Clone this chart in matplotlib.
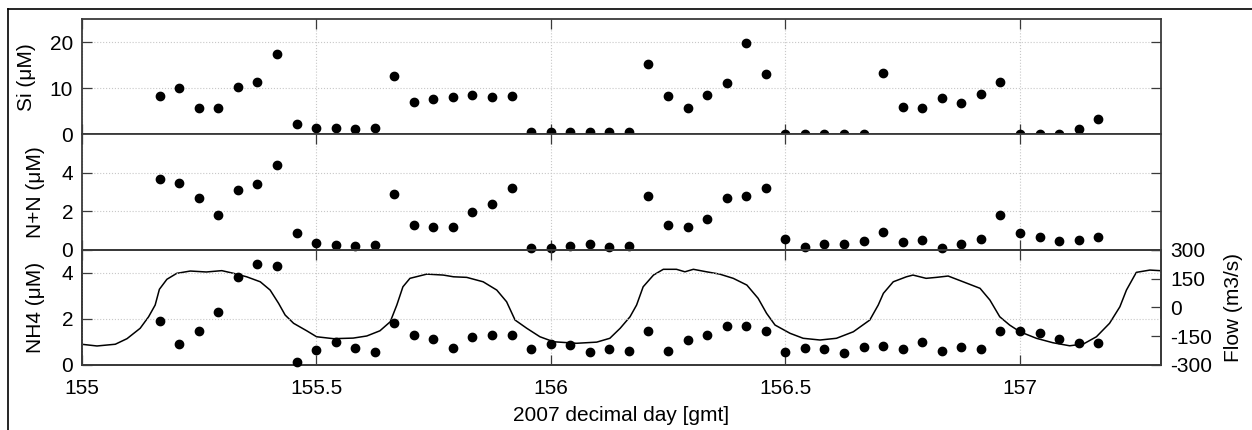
import matplotlib
matplotlib.use('Agg')
import matplotlib.pyplot as plt
from matplotlib.lines import Line2D

plt.rcParams['font.family'] = ['Liberation Sans', 'DejaVu Sans']
plt.rcParams['axes.unicode_minus'] = False

# hourly bottle samples (decimal day)
day = [155.1667, 155.2083, 155.2500, 155.2917, 155.3333, 155.3750, 155.4167,
       155.4583, 155.5000, 155.5417, 155.5833, 155.6250, 155.6667, 155.7083,
       155.7500, 155.7917, 155.8333, 155.8750, 155.9167, 155.9583, 156.0000,
       156.0417, 156.0833, 156.1250, 156.1667, 156.2083, 156.2500, 156.2917,
       156.3333, 156.3750, 156.4167, 156.4583, 156.5000, 156.5417, 156.5833,
       156.6250, 156.6667, 156.7083, 156.7500, 156.7917, 156.8333, 156.8750,
       156.9167, 156.9583, 157.0000, 157.0417, 157.0833, 157.1250, 157.1667]

si = [8.2, 10.0, 5.8, 5.8, 10.2, 11.4, 17.5, 2.3, 1.4, 1.3, 1.15, 1.4, 12.7,
      6.9, 7.6, 8.0, 8.5, 8.0, 8.3, 0.4, 0.4, 0.4, 0.4, 0.4, 0.4, 15.3, 8.3,
      5.8, 8.5, 11.2, 19.7, 13.1, 0.0, 0.1, 0.0, 0.0, 0.0, 13.3, 6.0, 5.8, 7.8,
      6.7, 8.8, 11.4, 0.1, 0.0, 0.1, 1.1, 3.3]

nn = [3.69, 3.48, 2.68, 1.78, 3.1, 3.41, 4.4, 0.85, 0.37, 0.25, 0.21, 0.25,
      2.89, 1.29, 1.2, 1.2, 1.98, 2.4, 3.2, 0.07, 0.07, 0.18, 0.31, 0.12, 0.21,
      2.8, 1.29, 1.2, 1.58, 2.68, 2.78, 3.2, 0.54, 0.12, 0.31, 0.28, 0.45, 0.92,
      0.38, 0.49, 0.1, 0.31, 0.56, 1.78, 0.87, 0.68, 0.45, 0.49, 0.66]

nh4 = [1.9, 0.93, 1.49, 2.3, 3.8, 4.39, 4.3, 0.13, 0.65, 0.99, 0.74, 0.58,
       1.8, 1.29, 1.12, 0.72, 1.2, 1.29, 1.29, 0.68, 0.9, 0.87, 0.58, 0.68,
       0.62, 1.49, 0.62, 1.1, 1.29, 1.7, 1.7, 1.49, 0.55, 0.72, 0.71, 0.51,
       0.77, 0.81, 0.68, 0.99, 0.62, 0.77, 0.7, 1.49, 1.49, 1.4, 1.12, 0.96, 0.96]

# river flow record
flow_day = [155.0, 155.033, 155.072, 155.097, 155.125, 155.143, 155.157, 155.166,
            155.182, 155.203, 155.232, 155.266, 155.299, 155.324, 155.352, 155.381,
            155.402, 155.42, 155.434, 155.452, 155.48, 155.501, 155.537, 155.579,
            155.608, 155.636, 155.658, 155.672, 155.685, 155.70, 155.736, 155.771,
            155.793, 155.821, 155.856, 155.885, 155.906, 155.924, 155.949, 155.977,
            156.006, 156.055, 156.098, 156.126, 156.148, 156.169, 156.183, 156.197,
            156.219, 156.24, 156.268, 156.286, 156.304, 156.332, 156.36, 156.389,
            156.418, 156.442, 156.46, 156.478, 156.51, 156.538, 156.574, 156.609,
            156.645, 156.68, 156.698, 156.709, 156.73, 156.758, 156.772, 156.8,
            156.822, 156.847, 156.879, 156.915, 156.936, 156.957, 156.978, 157.0,
            157.035, 157.07, 157.106, 157.135, 157.163, 157.191, 157.213, 157.227,
            157.248, 157.277, 157.298]
flow = [-192, -201, -192, -163, -109, -49, 12, 94,
        146, 177, 189, 184, 191, 177, 159, 133,
        90, 21, -40, -83, -122, -153, -163, -160,
        -149, -122, -75, 12, 107, 151, 173, 168,
        159, 156, 133, 90, 29, -66, -109, -153,
        -179, -187, -181, -161, -109, -49, 12, 107,
        168, 198, 198, 185, 198, 185, 173, 151,
        116, 47, -31, -92, -135, -161, -170, -161,
        -127, -66, 12, 73, 133, 159, 168, 151,
        156, 163, 133, 99, 38, -49, -92, -127,
        -161, -184, -200, -191, -153, -83, 3, 90,
        182, 194, 191]

xticks = [155, 155.5, 156, 156.5, 157]
xticklabels = ['155', '155.5', '156', '156.5', '157']

W, H = 1252, 430
fig = plt.figure(figsize=(W / 100, H / 100), dpi=100)

left = 81.5 / W
width = (1160.7 - 81.5) / W
edges = [19, 134.3, 249.7, 365]

spine_col = '#3a3a3a'
fs = 15


def make_ax(i):
    top, bot = edges[i], edges[i + 1]
    ax = fig.add_axes([left, 1 - bot / H, width, (bot - top) / H])
    for s in ax.spines.values():
        s.set_color(spine_col)
        s.set_linewidth(1.3)
    ax.set_xlim(155, 157.3)
    ax.set_xticks(xticks)
    ax.tick_params(direction='in', length=7, width=0.9, color=spine_col,
                   top=True, right=True, labelsize=fs, pad=6)
    ax.tick_params(axis='x', pad=10)
    ax.grid(True, color='#c8c8c8', linestyle=':', linewidth=0.8)
    return ax


ax1 = make_ax(0)
ax1.plot(day, si, 'o', color='black', ms=6, clip_on=False, zorder=5)
ax1.set_ylim(0, 25)
ax1.set_yticks([0, 10, 20])
ax1.set_xticklabels([])
ax1.set_ylabel('Si (μM)', fontsize=fs, labelpad=10)

ax2 = make_ax(1)
ax2.plot(day, nn, 'o', color='black', ms=6, clip_on=False, zorder=5)
ax2.set_ylim(0, 6)
ax2.set_yticks([0, 2, 4])
ax2.set_xticklabels([])
ax2.set_ylabel('N+N (μM)', fontsize=fs, labelpad=12)

ax3 = make_ax(2)
ax3.set_ylim(0, 5)
ax3.set_yticks([0, 2, 4])
ax3.set_xticklabels(xticklabels)
ax3.set_ylabel('NH4 (μM)', fontsize=fs, labelpad=12)
ax3.set_xlabel('2007 decimal day [gmt]', fontsize=fs, labelpad=6)

ax3b = ax3.twinx()
ax3b.plot(flow_day, flow, color='black', lw=1.1)
ax3b.set_ylim(-300, 300)
ax3b.set_yticks([-300, -150, 0, 150, 300])
ax3b.tick_params(direction='in', length=7, width=0.9, color=spine_col,
                 labelsize=fs, pad=7)
for s in ax3b.spines.values():
    s.set_color(spine_col)
    s.set_linewidth(1.3)
ax3b.set_ylabel('Flow (m3/s)', fontsize=fs, labelpad=8)
ax3b.set_xlim(155, 157.3)
ax3.plot(day, nh4, 'o', color='black', ms=6, clip_on=False, zorder=5)
ax3.set_zorder(ax3b.get_zorder() + 1)
ax3.patch.set_visible(False)

# figure frame
fig.add_artist(Line2D([8 / W, 1], [1 - 9 / H, 1 - 9 / H], transform=fig.transFigure,
                      color='black', lw=1.2))
fig.add_artist(Line2D([8 / W, 8 / W], [0, 1 - 9 / H], transform=fig.transFigure,
                      color='black', lw=1.2))

fig.savefig('out.png', dpi=100)
